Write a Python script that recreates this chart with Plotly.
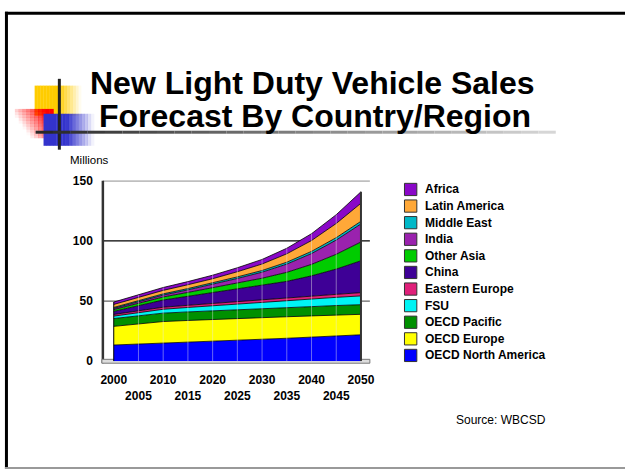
import plotly.graph_objects as go

years = [2000, 2005, 2010, 2015, 2020, 2025, 2030, 2035, 2040, 2045, 2050]
oecd_na = [13.5, 14.4, 15.3, 16.0, 16.8, 17.5, 18.3, 19.1, 20.0, 21.0, 22.0]
oecd_eu = [15.5, 16.8, 17.7, 17.9, 18.0, 18.0, 18.0, 17.9, 17.7, 17.4, 17.0]
oecd_pac = [6.5, 6.8, 7.0, 7.1, 7.2, 7.3, 7.4, 7.5, 7.7, 7.9, 8.0]
fsu = [2.0, 2.6, 3.2, 3.7, 4.2, 4.7, 5.2, 5.7, 6.2, 6.8, 7.3]
east_eu = [1.4, 1.5, 1.7, 1.8, 1.9, 2.0, 2.1, 2.2, 2.4, 2.5, 2.7]
china = [2.5, 4.0, 6.0, 7.5, 9.0, 10.5, 12.0, 14.0, 17.0, 21.0, 26.5]
other_asia = [1.5, 2.0, 2.5, 3.2, 4.0, 5.0, 6.0, 7.5, 9.5, 12.3, 15.6]
india = [1.0, 1.2, 1.6, 2.1, 2.8, 3.8, 5.0, 6.8, 9.0, 11.8, 15.0]
mideast = [0.8, 0.9, 1.0, 1.1, 1.2, 1.3, 1.4, 1.6, 1.8, 2.0, 2.2]
latam = [2.5, 2.6, 2.9, 3.2, 3.5, 4.3, 5.4, 7.0, 9.0, 11.8, 15.0]
africa = [2.0, 2.2, 2.4, 2.6, 2.9, 3.3, 3.8, 4.6, 5.7, 7.3, 9.5]

series_names = ["OECD North America", "OECD Europe", "OECD Pacific", "FSU", "Eastern Europe",
                "China", "Other Asia", "India", "Middle East", "Latin America", "Africa"]
series_vals = [oecd_na, oecd_eu, oecd_pac, fsu, east_eu, china, other_asia, india, mideast, latam, africa]
series_colors = ["#0000FF", "#FFFF00", "#009000", "#00F4F4", "#E0207A",
                 "#3E0096", "#00CC00", "#9A22AE", "#00B8C8", "#FFA838", "#8A08C8"]

y_ticks = [0, 50, 100, 150]
x_ticks = years
x_ticktext = [str(y) if i % 2 == 0 else "<br>" + str(y) for i, y in enumerate(years)]

W, H = 630, 476
def px(x):
    return x / W
def py(y):
    return 1 - y / H

FONT = "Arial, Liberation Sans, sans-serif"

fig = go.Figure()
for name, vals, col in zip(series_names, series_vals, series_colors):
    fig.add_trace(go.Scatter(x=years, y=vals, stackgroup="one", mode="lines", name=name,
                             line=dict(color="black", width=0.8), fillcolor=col,
                             showlegend=False, hoverinfo="skip"))

totals = [sum(v[i] for v in series_vals) for i in range(len(years))]

shapes = []
annotations = []
# slide frame
shapes.append(dict(type="line", xref="paper", yref="paper", x0=px(3), x1=1, y0=py(6.5), y1=py(6.5),
                   line=dict(color="black", width=3)))
shapes.append(dict(type="line", xref="paper", yref="paper", x0=px(4.5), x1=px(4.5), y0=py(5), y1=0,
                   line=dict(color="black", width=3)))
shapes.append(dict(type="line", xref="paper", yref="paper", x0=px(3), x1=1, y0=py(475), y1=py(475),
                   line=dict(color="#999", width=2)))

# logo decoration gradients
def grad_rect(x0, x1, y0, y1, rgb, alpha_fn, n=16):
    out = []
    for i in range(n):
        a0 = x0 + (x1 - x0) * i / n
        a1 = x0 + (x1 - x0) * (i + 1) / n
        t = (i + 0.5) / n
        out.append(dict(type="rect", xref="paper", yref="paper", x0=px(a0), x1=px(a1) + 0.0005,
                        y0=py(y1), y1=py(y0), fillcolor="rgba(%d,%d,%d,%.3f)" % (rgb + (alpha_fn(t),)),
                        line=dict(width=0), layer="above"))
    return out

shapes += grad_rect(33, 80, 81, 112, (255, 204, 0), lambda t: 1.0 if t < 0.5 else max(0.0, 1 - (t - 0.5) * 2))
nr = 10
for i in range(nr):
    for j in range(nr):
        tx = (i + 0.5) / nr
        ty = (j + 0.5) / nr
        a = max(0.0, min(1.0, tx * 1.1 - ty * 0.6 + 0.15))
        x0 = 13 + (52 - 13) * i / nr
        x1 = 13 + (52 - 13) * (i + 1) / nr
        y0 = 105 + (135 - 105) * j / nr
        y1 = 105 + (135 - 105) * (j + 1) / nr
        shapes.append(dict(type="rect", xref="paper", yref="paper", x0=px(x0), x1=px(x1) + 0.0005,
                           y0=py(y1) - 0.0005, y1=py(y0), fillcolor="rgba(255,0,0,%.3f)" % a,
                           line=dict(width=0), layer="above"))
shapes += grad_rect(42, 93, 110, 143, (51, 51, 204), lambda t: 1.0 if t < 0.45 else max(0.0, 1 - (t - 0.45) / 0.55))
shapes.append(dict(type="line", xref="paper", yref="paper", x0=px(58), x1=px(58), y0=py(74), y1=py(147),
                   line=dict(color="#222", width=3), layer="above"))
nseg = 30
for i in range(nseg):
    a0 = 34 + (560 - 34) * i / nseg
    a1 = 34 + (560 - 34) * (i + 1) / nseg
    g = int(40 + 180 * (i / nseg))
    shapes.append(dict(type="line", xref="paper", yref="paper", x0=px(a0), x1=px(a1), y0=py(129), y1=py(129),
                       line=dict(color="rgb(%d,%d,%d)" % (g, g, g), width=3), layer="above"))

# back wall
shapes.append(dict(type="line", xref="paper", yref="y", x0=px(102), x1=px(372), y0=150, y1=150,
                   line=dict(color="black", width=1.2), layer="below"))
shapes.append(dict(type="line", xref="paper", yref="y", x0=px(102), x1=px(372), y0=100, y1=100,
                   line=dict(color="black", width=1.2), layer="below"))
shapes.append(dict(type="line", xref="paper", yref="y", x0=px(102), x1=px(372), y0=50, y1=50,
                   line=dict(color="#666", width=1.2), layer="below"))
shapes.append(dict(type="line", xref="paper", yref="paper", x0=px(102), x1=px(102), y0=py(179), y1=py(367),
                   line=dict(color="#333", width=2.5), layer="below"))
shapes.append(dict(type="rect", xref="paper", yref="paper", x0=px(101), x1=px(372), y0=py(367), y1=py(363),
                   line=dict(color="#777", width=1), fillcolor="#ddd", layer="below"))

# vertical segment lines on front face
for i, yr in enumerate(years):
    if 0 < i < len(years) - 1:
        shapes.append(dict(type="line", xref="x", yref="y", x0=yr, x1=yr, y0=0, y1=totals[i],
                           line=dict(color="rgba(230,230,230,0.45)", width=1), layer="above"))
shapes.append(dict(type="line", xref="x", yref="y", x0=years[0], x1=years[0], y0=0, y1=totals[0],
                   line=dict(color="black", width=1), layer="above"))
shapes.append(dict(type="line", xref="x", yref="y", x0=years[-1], x1=years[-1], y0=0, y1=totals[-1],
                   line=dict(color="#333", width=2), layer="above"))

# legend (top entry = last series)
leg_top, leg_step = 188, 17.1
for k, (name, col) in enumerate(zip(series_names[::-1], series_colors[::-1])):
    cy = leg_top + leg_step * k
    shapes.append(dict(type="rect", xref="paper", yref="paper", x0=px(407), x1=px(419.5),
                       y0=py(cy + 6.3), y1=py(cy - 6.3), fillcolor=col,
                       line=dict(color="#333", width=1)))
    annotations.append(dict(text="<b>%s</b>" % name, x=px(426), y=py(cy), xref="paper", yref="paper",
                            showarrow=False, xanchor="left", yanchor="middle",
                            font=dict(family=FONT, size=12, color="black")))

annotations += [
    dict(text="<b>New Light Duty Vehicle Sales</b>", x=px(314), y=py(78), xref="paper", yref="paper",
         showarrow=False, font=dict(family=FONT, size=32, color="black"), xanchor="center", yanchor="middle"),
    dict(text="<b>Forecast By Country/Region</b>", x=px(317), y=py(112), xref="paper", yref="paper",
         showarrow=False, font=dict(family=FONT, size=32, color="black"), xanchor="center", yanchor="middle"),
    dict(text="Millions", x=px(67), y=py(158), xref="paper", yref="paper", showarrow=False,
         font=dict(family=FONT, size=11.5, color="black"), xanchor="left", yanchor="middle"),
    dict(text="Source: WBCSD", x=px(457), y=py(425), xref="paper", yref="paper", showarrow=False,
         font=dict(family=FONT, size=12, color="black"), xanchor="left", yanchor="middle"),
]

x_lo = years[0] - 11 / 5
x_hi = years[-1] + 9 / 5

fig.update_layout(
    width=W, height=H, margin=dict(l=0, r=0, t=0, b=0),
    paper_bgcolor="white", plot_bgcolor="white",
    font=dict(family=FONT, color="black"),
    shapes=shapes, annotations=annotations,
    xaxis=dict(domain=[px(102), px(372)], range=[x_lo, x_hi], tickvals=x_ticks, ticktext=x_ticktext,
               showgrid=False, zeroline=False, showline=False, ticks="",
               tickfont=dict(family=FONT, size=12, color="black", weight="bold"), tickangle=0,
               ticklabelstandoff=10),
    yaxis=dict(domain=[py(365), py(179)], range=[0, 150], tickvals=y_ticks,
               showgrid=False, zeroline=False, showline=False, ticks="",
               tickfont=dict(family=FONT, size=12, color="black", weight="bold"),
               ticklabelstandoff=9),
    showlegend=False,
)

fig.write_html("out.html")
